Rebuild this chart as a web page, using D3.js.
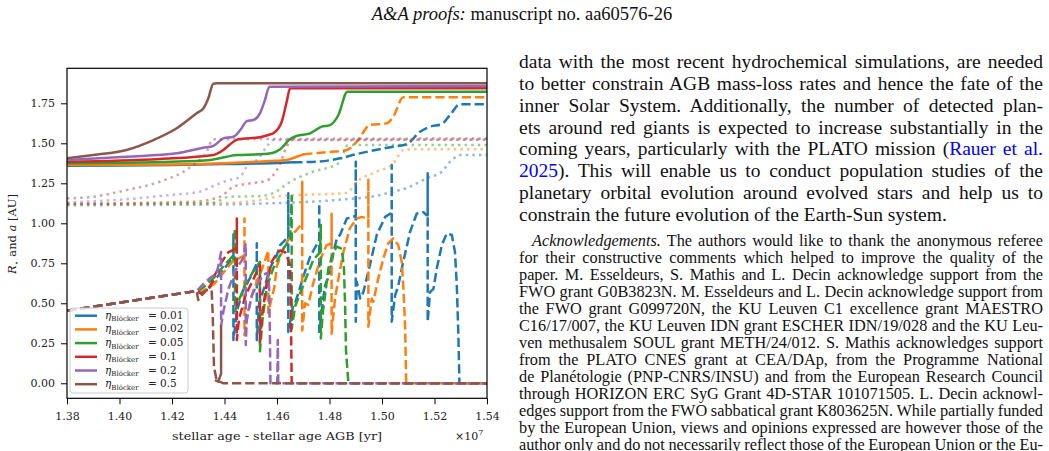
<!DOCTYPE html>
<html><head><meta charset="utf-8">
<script src="https://cdn.jsdelivr.net/npm/d3@7"></script>
<style>html,body{margin:0;padding:0;background:#fff;}svg{display:block;}</style>
</head><body>
<svg id="page" width="1049" height="451"></svg>
<script>
// ---------------- data ----------------
const xTicks = [1.38, 1.40, 1.42, 1.44, 1.46, 1.48, 1.50, 1.52, 1.54];
const yTicks = [0, 0.25, 0.5, 0.75, 1.0, 1.25, 1.5, 1.75];
const etaLabels = ["0.01", "0.02", "0.05", "0.1", "0.2", "0.5"];
const seriesColors = ["#1f77b4", "#ff7f0e", "#2ca02c", "#d62728", "#9467bd", "#8c564b"];

// stellar radius (solid)
const rStar01 = [[1.38,1.360],[1.40,1.362],[1.42,1.365],[1.44,1.370],[1.46,1.377],[1.4662,1.381]];
const rStar02 = [[1.38,1.364],[1.42,1.368],[1.44,1.375],[1.4573,1.389],[1.4637,1.396],[1.4675,1.416],[1.470,1.431]];
const rStar05 = [[1.38,1.375],[1.42,1.385],[1.4345,1.396],[1.4408,1.416],[1.4446,1.427],[1.4535,1.431],[1.4586,1.441],[1.4612,1.4625],[1.465,1.527],[1.4675,1.546],[1.4726,1.5625],[1.477,1.604],[1.4802,1.614],[1.4834,1.677],[1.4868,1.823],[1.54,1.823]];
const rStar1 = [[1.38,1.385],[1.4154,1.402],[1.4357,1.427],[1.4395,1.458],[1.4434,1.510],[1.4453,1.525],[1.4535,1.5375],[1.4567,1.552],[1.4586,1.5625],[1.4618,1.635],[1.4637,1.760],[1.465,1.844],[1.54,1.844]];
const rStar2 = [[1.38,1.395],[1.4027,1.416],[1.4218,1.4375],[1.4319,1.4725],[1.4357,1.483],[1.4396,1.531],[1.4434,1.541],[1.4465,1.594],[1.4485,1.639],[1.451,1.646],[1.4535,1.6875],[1.4554,1.770],[1.4571,1.854],[1.54,1.858]];
const rStar5 = [[1.38,1.406],[1.39,1.427],[1.4027,1.458],[1.4129,1.520],[1.4218,1.594],[1.4294,1.6875],[1.432,1.719],[1.4338,1.780],[1.4357,1.871],[1.437,1.875],[1.54,1.875]];
// late stellar radius (dashed) for the two lowest eta
const rStarLate01 = [[1.4662,1.381],[1.475,1.385],[1.484,1.406],[1.490,1.431],[1.5043,1.479],[1.5094,1.494],[1.5145,1.5725],[1.5183,1.604],[1.5227,1.619],[1.5259,1.677],[1.5297,1.744],[1.54,1.744]];
const rStarLate02 = [[1.470,1.431],[1.4738,1.4375],[1.4789,1.444],[1.4866,1.458],[1.4904,1.510],[1.4954,1.614],[1.5018,1.625],[1.5043,1.667],[1.5081,1.788],[1.54,1.788]];

// dotted curves
const rDot01 = [[1.38,1.113],[1.44,1.118],[1.4573,1.125],[1.4828,1.146],[1.4993,1.177],[1.5018,1.1875],[1.5107,1.229],[1.517,1.281],[1.5228,1.3225],[1.5266,1.396],[1.5297,1.427],[1.54,1.427]];
const rDot02 = [[1.38,1.118],[1.44,1.128],[1.455,1.150],[1.4611,1.170],[1.4866,1.190],[1.4904,1.260],[1.498,1.3225],[1.5043,1.375],[1.5081,1.458],[1.512,1.4625],[1.54,1.4625]];
const rDot05 = [[1.38,1.120],[1.4345,1.125],[1.4421,1.166],[1.4535,1.170],[1.4599,1.200],[1.4637,1.246],[1.4662,1.270],[1.4738,1.3225],[1.4834,1.375],[1.4872,1.489],[1.54,1.490]];
const rDot1 = [[1.38,1.122],[1.428,1.135],[1.4383,1.166],[1.4434,1.229],[1.4484,1.246],[1.456,1.266],[1.4586,1.302],[1.461,1.364],[1.4637,1.479],[1.4656,1.520],[1.54,1.522]];
const rDot2 = [[1.38,1.13],[1.4065,1.156],[1.4192,1.177],[1.4307,1.198],[1.4357,1.233],[1.4408,1.266],[1.4459,1.290],[1.4485,1.354],[1.4523,1.396],[1.4561,1.479],[1.4586,1.520],[1.54,1.525]];
const rDot5 = [[1.38,1.156],[1.39,1.166],[1.4027,1.208],[1.4154,1.260],[1.4269,1.350],[1.4332,1.448],[1.4357,1.525],[1.54,1.530]];

// planet semi-major axis a (dashed)
const aPlanet01 = [[1.38,0.454],[1.4294,0.577],[1.4313,0.56],[1.434,0.60],[1.437,0.66],[1.44,0.72],[1.4421,0.76],[1.4434,0.80],[1.4434,0.93],[1.4434,0.27],[1.4447,0.45],[1.447,0.58],[1.4485,0.62],[1.4504,0.68],[1.4523,0.75],[1.4523,0.875],[1.4523,0.27],[1.4532,0.50],[1.4554,0.61],[1.4573,0.72],[1.4599,0.80],[1.4612,0.864],[1.4637,0.906],[1.4643,0.92],[1.4643,1.1875],[1.4643,0.32],[1.4662,0.49],[1.4669,0.50],[1.4688,0.60],[1.47,0.667],[1.4726,0.79],[1.4757,0.885],[1.4761,0.90],[1.4761,1.125],[1.4761,0.32],[1.4777,0.54],[1.4783,0.61],[1.4802,0.6875],[1.4815,0.82],[1.4828,0.906],[1.484,0.927],[1.4866,1.03],[1.4891,1.04],[1.49,1.05],[1.49,1.385],[1.49,0.385],[1.4904,0.635],[1.4917,0.53],[1.4929,0.57],[1.4954,0.74],[1.498,0.927],[1.5012,1.04],[1.5031,1.06],[1.5037,1.06],[1.5037,1.364],[1.5037,0.385],[1.505,0.55],[1.5062,0.61],[1.5081,0.76],[1.5107,0.947],[1.5132,1.06],[1.5158,1.07],[1.517,1.05],[1.5174,1.05],[1.5174,1.3125],[1.5174,0.385],[1.5183,0.57],[1.5196,0.59],[1.5209,0.72],[1.5228,0.864],[1.5247,0.9375],[1.5266,0.927],[1.5278,0.82],[1.5285,0.61],[1.5291,0.30],[1.5295,0.0],[1.54,0.0]];
const aPlanet02 = [[1.38,0.454],[1.4294,0.577],[1.432,0.58],[1.436,0.62],[1.44,0.70],[1.443,0.76],[1.4476,0.80],[1.4476,1.03],[1.4476,0.30],[1.449,0.45],[1.451,0.58],[1.454,0.70],[1.4567,0.83],[1.4567,0.44],[1.4575,0.50],[1.459,0.60],[1.4599,0.73],[1.4624,0.84],[1.465,0.916],[1.4675,0.958],[1.4696,1.0],[1.4696,1.26],[1.4696,0.33],[1.4707,0.5],[1.4719,0.49],[1.4738,0.625],[1.4764,0.77],[1.4789,0.864],[1.4808,0.875],[1.4808,1.06],[1.4808,0.31],[1.4821,0.53],[1.4834,0.656],[1.4853,0.82],[1.4878,0.97],[1.4904,1.03],[1.4923,1.04],[1.4942,1.03],[1.4948,1.03],[1.4948,1.28],[1.4948,0.354],[1.4961,0.53],[1.4967,0.51],[1.4986,0.656],[1.5005,0.78],[1.5024,0.875],[1.5043,0.906],[1.5062,0.864],[1.5075,0.76],[1.5081,0.61],[1.5088,0.36],[1.5092,0.01],[1.5095,0.0],[1.54,0.0]];
const aPlanet05 = [[1.38,0.454],[1.4294,0.577],[1.432,0.60],[1.436,0.66],[1.44,0.74],[1.4434,0.80],[1.444,0.97],[1.444,0.45],[1.4455,0.52],[1.448,0.62],[1.451,0.70],[1.4535,0.76],[1.4535,0.20],[1.4545,0.40],[1.4561,0.60],[1.4586,0.72],[1.4612,0.80],[1.4624,0.84],[1.4637,0.87],[1.465,0.90],[1.4656,1.17],[1.4656,0.34],[1.4669,0.48],[1.4688,0.5625],[1.4713,0.667],[1.4738,0.77],[1.4764,0.82],[1.4767,0.99],[1.4767,0.28],[1.4775,0.45],[1.4783,0.55],[1.4796,0.72],[1.4815,0.82],[1.4828,0.854],[1.4847,0.84],[1.4855,0.72],[1.4859,0.51],[1.4863,0.2],[1.4872,0.0],[1.54,0.0]];
const aPlanet1 = [[1.38,0.454],[1.4294,0.577],[1.4313,0.56],[1.4345,0.60],[1.4364,0.68],[1.439,0.76],[1.4415,0.82],[1.443,0.83],[1.4447,0.85],[1.4447,1.03],[1.4447,0.27],[1.4455,0.40],[1.448,0.55],[1.451,0.65],[1.4535,0.74],[1.4535,0.26],[1.4545,0.45],[1.456,0.62],[1.458,0.76],[1.4599,0.81],[1.4612,0.83],[1.4631,0.82],[1.4643,0.77],[1.465,0.74],[1.4653,0.43],[1.4656,0.0],[1.54,0.0]];
const aPlanet2 = [[1.38,0.454],[1.4294,0.577],[1.4319,0.62],[1.4351,0.667],[1.437,0.68],[1.4387,0.82],[1.4387,0.36],[1.4396,0.45],[1.4415,0.59],[1.444,0.70],[1.447,0.78],[1.4481,0.875],[1.4481,0.24],[1.4485,0.40],[1.4504,0.55],[1.4523,0.61],[1.4548,0.68],[1.4565,0.69],[1.457,0.60],[1.4573,0.30],[1.4575,0.0],[1.4601,0.0],[1.4603,0.27],[1.4605,0.0],[1.54,0.0]];
const aPlanet5 = [[1.38,0.454],[1.4294,0.577],[1.430,0.52],[1.4313,0.55],[1.4332,0.583],[1.4351,0.583],[1.4355,0.4375],[1.436,0.10],[1.437,0.02],[1.4396,0.0],[1.54,0.0]];
const aTail5 = [[1.4364,0.02],[1.4376,0.01],[1.4387,0.06],[1.4387,0.364]];

// page text
const headerParts = ["_A&A proofs:_", " manuscript no. aa60576-26"];
const bodyLines = [
  "data with the most recent hydrochemical simulations, are needed",
  "to better constrain AGB mass-loss rates and hence the fate of the",
  "inner Solar System. Additionally, the number of detected plan-",
  "ets around red giants is expected to increase substantially in the",
  "coming years, particularly with the PLATO mission ({Rauer et al.}",
  "{2025}). This will enable us to conduct population studies of the",
  "planetary orbital evolution around evolved stars and help us to",
  "constrain the future evolution of the Earth-Sun system."
];
const ackLines = [
  "_Acknowledgements._ The authors would like to thank the anonymous referee",
  "for their constructive comments which helped to improve the quality of the",
  "paper. M. Esseldeurs, S. Mathis and L. Decin acknowledge support from the",
  "FWO grant G0B3823N. M. Esseldeurs and L. Decin acknowledge support from",
  "the FWO grant G099720N, the KU Leuven C1 excellence grant MAESTRO",
  "C16/17/007, the KU Leuven IDN grant ESCHER IDN/19/028 and the KU Leu-",
  "ven methusalem SOUL grant METH/24/012. S. Mathis acknowledges support",
  "from the PLATO CNES grant at CEA/DAp, from the Programme National",
  "de Planétologie (PNP-CNRS/INSU) and from the European Research Council",
  "through HORIZON ERC SyG Grant 4D-STAR 101071505. L. Decin acknowl-",
  "edges support from the FWO sabbatical grant K803625N. While partially funded",
  "by the European Union, views and opinions expressed are however those of the",
  "author only and do not necessarily reflect those of the European Union or the Eu-"
];

// ---------------- drawing ----------------
const svg = d3.select("#page");
svg.append("rect").attr("width",1049).attr("height",451).attr("fill","#fff");

const L = 67, R = 487, T = 68.3, B = 398.3;
const x = d3.scaleLinear().domain([1.38, 1.54]).range([L, R]);
const y = d3.scaleLinear().domain([-0.0938, 1.9688]).range([B, T]);
const chartFont = "'DejaVu Serif', serif";

svg.append("clipPath").attr("id","clip").append("rect")
  .attr("x",L).attr("y",T).attr("width",R-L).attr("height",B-T);

const plot = svg.append("g").attr("clip-path","url(#clip)");
const smooth = d3.line().x(d=>x(d[0])).y(d=>y(d[1])).curve(d3.curveMonotoneX);
const straight = d3.line().x(d=>x(d[0])).y(d=>y(d[1]));
const LW = 2.5;

const solidSets = [rStar01, rStar02, rStar05, rStar1, rStar2, rStar5];
const lateSets = [rStarLate01, rStarLate02, null, null, null, null];
const dotSets = [rDot01, rDot02, rDot05, rDot1, rDot2, rDot5];
const aSets = [aPlanet01, aPlanet02, aPlanet05, aPlanet1, aPlanet2, aPlanet5];

solidSets.forEach((s, i) => {
  const c = seriesColors[i];
  plot.append("path").attr("d", smooth(s)).attr("fill","none").attr("stroke",c)
    .attr("stroke-width",LW).attr("stroke-linejoin","round").attr("stroke-linecap","square");
  if (lateSets[i]) plot.append("path").attr("d", smooth(lateSets[i])).attr("fill","none").attr("stroke",c)
    .attr("stroke-width",LW).attr("stroke-dasharray",[3.7*LW,1.6*LW].join(","));
  plot.append("path").attr("d", smooth(dotSets[i])).attr("fill","none").attr("stroke",c)
    .attr("stroke-opacity",0.5).attr("stroke-width",LW).attr("stroke-dasharray",[1*LW,1.65*LW].join(","));
  plot.append("path").attr("d", straight(aSets[i])).attr("fill","none").attr("stroke",c)
    .attr("stroke-width",LW).attr("stroke-linejoin","round").attr("stroke-dasharray",[3.7*LW,1.6*LW].join(","));
  if (i === 5) plot.append("path").attr("d", straight(aTail5)).attr("fill","none").attr("stroke",c)
    .attr("stroke-width",LW).attr("stroke-linejoin","round");
});

// axes
const xAxis = svg.append("g").attr("transform",`translate(0,${B})`)
  .call(d3.axisBottom(x).tickValues(xTicks).tickFormat(d3.format(".2f")).tickSizeOuter(0).tickSize(6));
const yAxis = svg.append("g").attr("transform",`translate(${L},0)`)
  .call(d3.axisLeft(y).tickValues(yTicks).tickFormat(d3.format(".2f")).tickSizeOuter(0).tickSize(6).tickPadding(6));
[xAxis, yAxis].forEach(g => {
  g.select(".domain").remove();
  g.selectAll(".tick line").attr("stroke","#000").attr("stroke-width",1);
  g.selectAll("text").attr("font-family",chartFont).attr("font-size",11).attr("fill","#222");
});
xAxis.selectAll("text").attr("y",13.5);

// frame
svg.append("rect").attr("x",L).attr("y",T).attr("width",R-L).attr("height",B-T)
  .attr("fill","none").attr("stroke","#000").attr("stroke-width",1.2);

// axis labels
svg.append("text").attr("x",172).attr("y",440)
  .attr("font-family",chartFont).attr("font-size",11.5).attr("fill","#222")
  .attr("textLength",210).attr("lengthAdjust","spacingAndGlyphs")
  .text("stellar age - stellar age AGB [yr]");
const off = svg.append("text").attr("x",455).attr("y",440).attr("font-family",chartFont)
  .attr("font-size",11).attr("fill","#222");
off.append("tspan").text("×10");
off.append("tspan").attr("font-size",8).attr("dy",-5).text("7");

const yl = svg.append("text").attr("transform","translate(16,234) rotate(-90)").attr("text-anchor","middle")
  .attr("font-family",chartFont).attr("font-size",11.5).attr("fill","#222");
yl.append("tspan").attr("font-style","italic").text("R");
yl.append("tspan").attr("font-family","'DejaVu Sans', sans-serif").attr("font-size",8).attr("dy",3).text("⋆");
yl.append("tspan").attr("dy",-3).text(" and ");
yl.append("tspan").attr("font-style","italic").text("a");
yl.append("tspan").text(" [AU]");

// legend
const lg = svg.append("g");
lg.append("rect").attr("x",70).attr("y",308).attr("width",118).attr("height",85).attr("rx",3)
  .attr("fill","#fff").attr("fill-opacity",0.8).attr("stroke","#cccccc").attr("stroke-width",1);
etaLabels.forEach((lab, i) => {
  const cy = 315.7 + i*13.7;
  lg.append("line").attr("x1",75).attr("x2",97).attr("y1",cy).attr("y2",cy)
    .attr("stroke",seriesColors[i]).attr("stroke-width",LW);
  const t = lg.append("text").attr("x",105).attr("y",cy+3).attr("font-family",chartFont)
    .attr("font-size",10.5).attr("fill","#222");
  t.append("tspan").attr("font-style","italic").text("η");
  t.append("tspan").attr("font-size",7).attr("dy",2.5).text("Blöcker");
  t.append("tspan").attr("dy",-2.5).attr("x",148).text("=");
  t.append("tspan").attr("x",160).text(lab);
});

// page text
const textFont = "'Liberation Serif','Times New Roman',serif";
function parseSegs(str) {
  return str.split(/(\{[^}]*\}|_[^_]*_)/).filter(s => s.length).map(s => {
    if (s[0] === "{") return {t: s.slice(1,-1), blue: true};
    if (s[0] === "_") return {t: s.slice(1,-1), ital: true};
    return {t: s};
  });
}
function drawLine(str, x0, yb, size, width) {
  const t = svg.append("text").attr("x",x0).attr("y",yb).attr("font-family",textFont)
    .attr("font-size",size).attr("fill","#111").attr("xml:space","preserve");
  parseSegs(str).forEach(s => {
    const ts = t.append("tspan").text(s.t);
    if (s.ital) ts.attr("font-style","italic");
    if (s.blue) ts.attr("fill","#0000ff");
  });
  if (width) {
    const w = t.node().getComputedTextLength();
    const n = (str.match(/ /g) || []).length;
    if (n) t.attr("word-spacing", (width - w) / n);
  }
  return t;
}
const hdr = svg.append("text").attr("x",522).attr("y",20).attr("text-anchor","middle")
  .attr("font-family",textFont).attr("font-size",18.5).attr("fill","#111").attr("xml:space","preserve");
headerParts.map(parseSegs).flat().forEach(s => {
  const ts = hdr.append("tspan").text(s.t);
  if (s.ital) ts.attr("font-style","italic");
});

const colX = 519, colW = 524;
bodyLines.forEach((ln, i) => drawLine(ln, colX, 68 + i*21.86, 19.5, i < bodyLines.length - 1 ? colW : null));
ackLines.forEach((ln, i) => {
  const ind = i === 0 ? 13 : 0;
  drawLine(ln, colX + ind, 246 + i*17, 16.3, colW - ind);
});
</script>
</body></html>
